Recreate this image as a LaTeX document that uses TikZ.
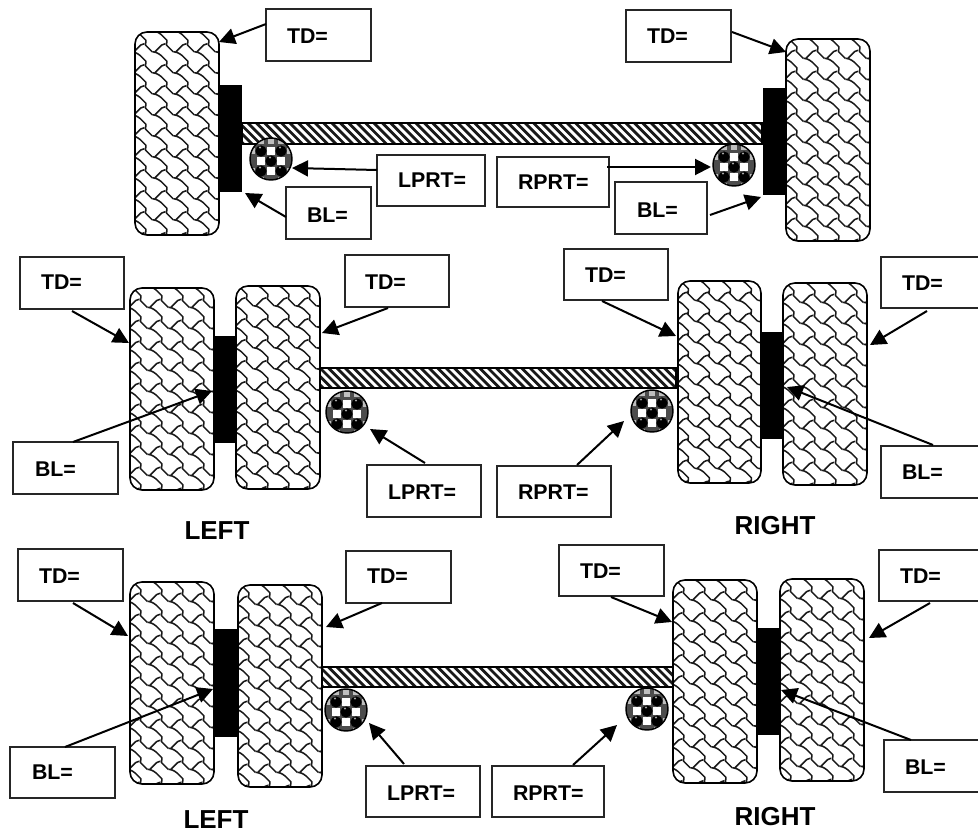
\documentclass[tikz,border=0pt]{standalone}
\usepackage{fontspec}
\setmainfont{Liberation Sans}
\usetikzlibrary{arrows.meta}
\tikzset{
  tirebox/.style={draw=black,line width=1.2pt,rounded corners=9pt,inner sep=0pt,outer sep=0pt,fill=white,
    path picture={\tireweave}},
  hubbox/.style={fill=black,draw=none,inner sep=0pt,outer sep=0pt},
  axlebox/.style={draw=black,line width=0.9pt,inner sep=0pt,outer sep=0pt,fill=white,
    path picture={\axlehatch}},
  ballnode/.style={circle,draw=black,line width=1.1pt,minimum size=31.5pt,inner sep=0pt,outer sep=0pt,fill=black!70,
    path picture={\ballskin}},
  labelbox/.style={draw=black!85,line width=1.1pt,inner sep=0pt,outer sep=0pt,fill=white},
  labeltext/.style={font=\fontsize{16}{18}\selectfont\bfseries,anchor=west,inner sep=0pt,outer sep=0pt},
  sidetext/.style={font=\fontsize{19.5}{22}\selectfont\bfseries,inner sep=0pt,outer sep=0pt},
  conn/.style={-{Triangle[length=12pt,width=12pt]},line width=1.5pt,black}
}
\newcommand{\tireweave}{%
  \foreach \wi in {-3,...,2}{\foreach \wj in {-6,...,5}{%
    \pgfmathsetmacro{\wvX}{21*\wi+12}\pgfmathsetmacro{\wvY}{21*\wj+15.5}%
    \draw[rounded corners=1.2pt,line width=1.15pt,black!90,line join=round]
      (\wvX+5.25,\wvY+7.875) -- (\wvX+7.875,\wvY+7.875) -- (\wvX+13.125,\wvY+10.5) -- (\wvX+15.75,\wvY+13.125)
      -- (\wvX+18.375,\wvY+15.75) -- (\wvX+21,\wvY+18.375) -- (\wvX+18.375,\wvY+21) -- (\wvX+21,\wvY+23.625)
      -- (\wvX+23.625,\wvY+26.25) -- (\wvX+26.25,\wvY+28.875)
      (\wvX+7.875,\wvY+7.875) -- (\wvX+10.5,\wvY+5.25) -- (\wvX+13.125,\wvY+2.625) -- (\wvX+15.75,\wvY+0) -- (\wvX+18.375,\wvY+0);
  }}}
\newcommand{\axlehatch}{%
  \foreach \k in {-34,...,34}{%
    \draw[line width=2.1pt,black!90] (8.4*\k-16,-16) -- (8.4*\k+16,16);
  }}
\newcommand{\ballskin}{%
  \foreach \a/\b in {0/-8,-10/2,10/2,0/12}{\fill[white] (\a-3.6,\b-3.6) rectangle (\a+3.6,\b+3.6);}
  \foreach \a/\b in {0/-18,-10/-18,10/-18,-19/-8,19/-8,-19/12,19/12,-10/21,10/21}{\fill[black!25] (\a-3,\b-3) rectangle (\a+3,\b+3);}
  \foreach \a/\b in {0/2,-10/-8,10/-8,-10/12,10/12}{\fill[black] (\a,\b) circle (5.6);\fill[black!35] (\a-1,\b-3.5) circle (1.1);}
}
\newcommand{\mybox}[8]{%
  \pgfmathsetmacro{\bw}{0.75*(#4-#2)}\pgfmathsetmacro{\bh}{0.75*(#5-#3)}%
  \node[labelbox,minimum width=\bw pt,minimum height=\bh pt] (#1) at ({(#2+#4)/2},{(#3+#5)/2}) {};
  \node[labeltext] (#1-t) at (#7,#8) {#6};
}
\newcommand{\shapebox}[6]{%
  \pgfmathsetmacro{\bw}{0.75*(#5-#3)}\pgfmathsetmacro{\bh}{0.75*(#6-#4)}%
  \node[#1,minimum width=\bw pt,minimum height=\bh pt] (#2) at ({(#3+#5)/2},{(#4+#6)/2}) {};
}
\begin{document}
\begin{tikzpicture}[x=0.75pt,y=-0.75pt]
\useasboundingbox (0,0) rectangle (978,838);
\clip (0,0) rectangle (978,838);
% row 1
\shapebox{axlebox}{ax1}{242}{123}{762}{144}
\shapebox{hubbox}{hb1}{219}{85}{242}{192}
\shapebox{hubbox}{hb2}{763}{88}{786}{195}
\shapebox{tirebox}{t1}{135}{32}{219}{235}
\shapebox{tirebox}{t2}{786}{39}{870}{241}
\node[ballnode] (b1) at (271,159) {};
\node[ballnode] (b2) at (734,165) {};
\mybox{td1}{266}{9}{371}{61}{TD=}{287}{36}
\mybox{td2}{626}{10}{731}{62}{TD=}{647}{36}
\mybox{lp1}{377}{155}{485}{206}{LPRT=}{398}{180}
\mybox{rp1}{497}{157}{609}{207}{RPRT=}{518}{182}
\mybox{bl1}{286}{187}{371}{239}{BL=}{307}{215}
\mybox{bl2}{615}{182}{707}{234}{BL=}{637}{210}
\draw[conn] ([shift={(0,15)}]td1.north west) -- ([shift={(0,10)}]t1.north east);
\draw[conn] ([shift={(1,22)}]td2.north east) -- ([shift={(0,13)}]t2.north west);
\draw[conn] ([shift={(0,15)}]lp1.north west) -- ([shift={(21,9)}]b1.center);
\draw[conn] ([shift={(-2,10)}]rp1.north east) -- ([shift={(-23,2)}]b2.center);
\draw[conn] ([shift={(0,30)}]bl1.north west) -- ([shift={(3,1)}]hb1.south east);
\draw[conn] ([shift={(3,33)}]bl2.north east) -- ([shift={(-2,2)}]hb2.south west);
% row 2
\shapebox{axlebox}{ax2}{320}{368}{676}{388}
\shapebox{hubbox}{hb3}{214}{336}{236}{443}
\shapebox{hubbox}{hb4}{761}{332}{783}{439}
\shapebox{tirebox}{t3}{130}{288}{214}{490}
\shapebox{tirebox}{t4}{236}{286}{320}{489}
\shapebox{tirebox}{t5}{678}{281}{761}{483}
\shapebox{tirebox}{t6}{783}{283}{867}{485}
\node[ballnode] (b3) at (347,412) {};
\node[ballnode] (b4) at (652,411) {};
\mybox{td3}{20}{257}{124}{309}{TD=}{41}{282}
\mybox{td4}{345}{255}{449}{307}{TD=}{365}{282}
\mybox{td5}{564}{249}{668}{300}{TD=}{585}{275}
\mybox{td6}{881}{257}{1000}{308}{TD=}{902}{283}
\mybox{bl3}{13}{442}{118}{494}{BL=}{35}{469}
\mybox{bl4}{881}{446}{1000}{498}{BL=}{902}{472}
\mybox{lp2}{367}{465}{481}{517}{LPRT=}{388}{492}
\mybox{rp2}{497}{466}{611}{517}{RPRT=}{518}{492}
\draw[conn] ([shift={(52,2)}]td3.south west) -- ([shift={(-1,55)}]t3.north west);
\draw[conn] ([shift={(43,1)}]td4.south west) -- ([shift={(2,47)}]t4.north east);
\draw[conn] ([shift={(38,1)}]td5.south west) -- ([shift={(-2,55)}]t5.north west);
\draw[conn] ([shift={(46,3)}]td6.south west) -- ([shift={(3,62)}]t6.north east);
\draw[conn] ([shift={(60,0)}]bl3.north west) -- ([shift={(-2,55)}]hb3.north west);
\draw[conn] ([shift={(52,-1)}]bl4.north west) -- ([shift={(4,55)}]hb4.north east);
\draw[conn] ([shift={(58,-2)}]lp2.north west) -- ([shift={(23,17)}]b3.center);
\draw[conn] ([shift={(80,-1)}]rp2.north west) -- ([shift={(-28,10)}]b4.center);
\node[sidetext] (left1) at (217,531) {LEFT};
\node[sidetext] (right1) at (775,526) {RIGHT};
% row 3
\shapebox{axlebox}{ax3}{322}{667}{674}{687}
\shapebox{hubbox}{hb5}{214}{629}{238}{737}
\shapebox{hubbox}{hb6}{757}{628}{780}{735}
\shapebox{tirebox}{t7}{130}{582}{214}{784}
\shapebox{tirebox}{t8}{238}{585}{322}{787}
\shapebox{tirebox}{t9}{673}{580}{757}{783}
\shapebox{tirebox}{t10}{780}{579}{864}{781}
\node[ballnode] (b5) at (346,710) {};
\node[ballnode] (b6) at (647,709) {};
\mybox{td7}{18}{549}{123}{601}{TD=}{39}{576}
\mybox{td8}{346}{551}{451}{603}{TD=}{367}{576}
\mybox{td9}{559}{545}{664}{596}{TD=}{580}{571}
\mybox{td10}{879}{550}{1000}{601}{TD=}{900}{576}
\mybox{bl5}{10}{747}{115}{798}{BL=}{32}{772}
\mybox{bl6}{884}{740}{1000}{792}{BL=}{905}{767}
\mybox{lp3}{366}{766}{480}{817}{LPRT=}{387}{793}
\mybox{rp3}{492}{766}{604}{817}{RPRT=}{513}{793}
\draw[conn] ([shift={(55,2)}]td7.south west) -- ([shift={(-2,54)}]t7.north west);
\draw[conn] ([shift={(36,0)}]td8.south west) -- ([shift={(4,42)}]t8.north east);
\draw[conn] ([shift={(52,1)}]td9.south west) -- ([shift={(-1,42)}]t9.north west);
\draw[conn] ([shift={(51,2)}]td10.south west) -- ([shift={(5,59)}]t10.north east);
\draw[conn] ([shift={(55,0)}]bl5.north west) -- ([shift={(-1,60)}]hb5.north west);
\draw[conn] ([shift={(27,0)}]bl6.north west) -- ([shift={(1,62)}]hb6.north east);
\draw[conn] ([shift={(38,-2)}]lp3.north west) -- ([shift={(23,13)}]b5.center);
\draw[conn] ([shift={(81,-1)}]rp3.north west) -- ([shift={(-30,16)}]b6.center);
\node[sidetext] (left2) at (216,820) {LEFT};
\node[sidetext] (right2) at (775,817) {RIGHT};
\end{tikzpicture}
\end{document}
